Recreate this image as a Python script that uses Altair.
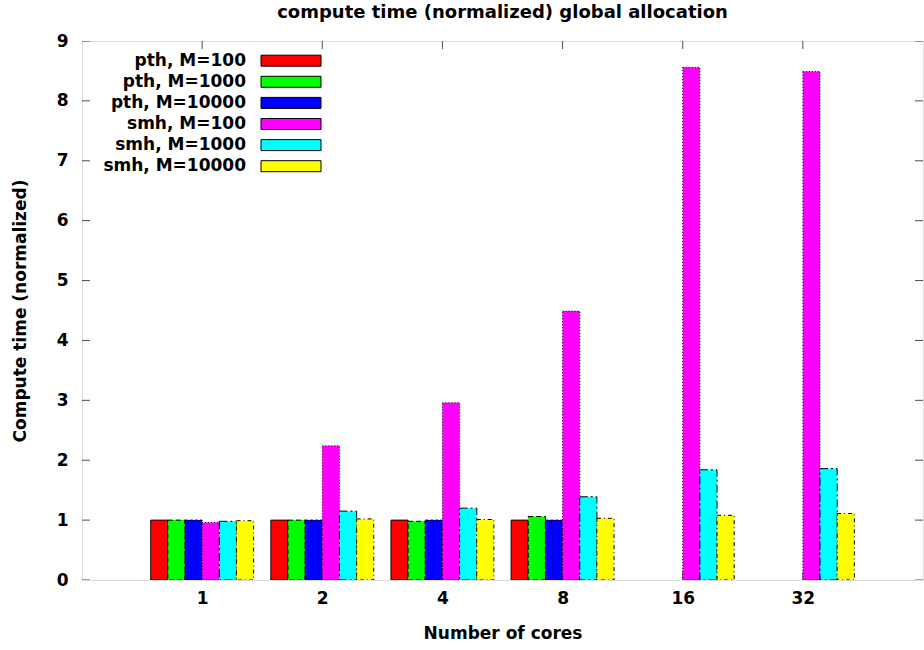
import altair as alt
import pandas as pd

cores = ["1", "2", "4", "8", "16", "32"]
series = ["pth, M=100", "pth, M=1000", "pth, M=10000",
          "smh, M=100", "smh, M=1000", "smh, M=10000"]
pth_100 = [1.00, 1.00, 1.00, 1.00, None, None]
pth_1000 = [1.00, 1.00, 0.98, 1.06, None, None]
pth_10000 = [1.00, 1.00, 1.00, 1.00, None, None]
smh_100 = [0.96, 2.24, 2.96, 4.49, 8.56, 8.49]
smh_1000 = [0.98, 1.15, 1.20, 1.39, 1.84, 1.86]
smh_10000 = [0.99, 1.02, 1.01, 1.03, 1.08, 1.11]
colors = ["#ff0000", "#00ff00", "#0000ff", "#ff00ff", "#00ffff", "#ffff00"]
dashes = [[1, 0], [5, 3], [3, 2], [1, 2], [8, 3, 2, 3], [4, 3, 1, 3]]
y_ticks = list(range(10))
title_text = "compute time (normalized) global allocation"

values = [pth_100, pth_1000, pth_10000, smh_100, smh_1000, smh_10000]
rows = []
for j, (name, vals) in enumerate(zip(series, values)):
    for i, v in enumerate(vals):
        if v is not None:
            rows.append({"series": name, "j": j, "idx": i, "value": v})
bars_df = pd.DataFrame(rows)

FONT = "DejaVu Sans"
FS = 17
W, H = 841, 539
XMIN, XMAX = -1, 6
YMIN, YMAX = 0, 9
n = len(series)
bw = 1.0 / (n + 1)

xscale = alt.Scale(domain=[XMIN, XMAX], nice=False, zero=False)
yscale = alt.Scale(domain=[YMIN, YMAX], nice=False, zero=False)
color = alt.Color("series:N", scale=alt.Scale(domain=series, range=colors), legend=None)
dash = alt.StrokeDash("series:N", scale=alt.Scale(domain=series, range=dashes), legend=None)

label_expr = "[" + ",".join("'%s'" % c for c in cores) + "][datum.value]"

bars = alt.Chart(bars_df).transform_calculate(
    x0="datum.idx + (datum.j - %f) * %f - %f" % ((n - 1) / 2, bw, bw / 2),
    x1="datum.idx + (datum.j - %f) * %f + %f" % ((n - 1) / 2, bw, bw / 2),
).mark_bar(stroke="black", strokeWidth=1, clip=True).encode(
    x=alt.X("x0:Q", scale=xscale, axis=alt.Axis(
        values=list(range(len(cores))), labelExpr=label_expr, title="Number of cores",
        grid=False, ticks=False, tickSize=0, domain=False, labelPadding=10,
        labelFont=FONT, labelFontSize=FS, labelFontWeight="bold", labelColor="black",
        titleFont=FONT, titleFontSize=FS, titleFontWeight="bold", titleColor="black",
        titleX=W / 2, titleY=53, titleBaseline="middle", titleAlign="center")),
    x2="x1:Q",
    y=alt.Y("value:Q", scale=yscale, axis=alt.Axis(
        values=y_ticks, format="d", title="Compute time (normalized)", grid=False,
        ticks=False, tickSize=0, domain=False, labelPadding=14,
        labelFont=FONT, labelFontSize=FS, labelFontWeight="bold", labelColor="black",
        titleFont=FONT, titleFontSize=FS, titleFontWeight="bold", titleColor="black",
        titleX=-62, titleY=H / 2, titleAngle=-90, titleBaseline="middle",
        titleAlign="center")),
    y2=alt.datum(0),
    fill=color,
    strokeDash=dash,
)

# inward tick marks (mirrored on all sides)
yt_df = pd.DataFrame({"v": y_ticks})
ytick_left = alt.Chart(yt_df).mark_tick(orient="horizontal", size=16, thickness=1,
                                        color="black", clip=True).encode(
    x=alt.datum(XMIN, scale=xscale), y=alt.Y("v:Q", scale=yscale))
ytick_right = alt.Chart(yt_df).mark_tick(orient="horizontal", size=16, thickness=1,
                                         color="black", clip=True).encode(
    x=alt.datum(XMAX, scale=xscale), y=alt.Y("v:Q", scale=yscale))
xt_df = pd.DataFrame({"v": list(range(len(cores)))})
xtick_top = alt.Chart(xt_df).mark_tick(orient="vertical", size=16, thickness=1,
                                       color="black", clip=True).encode(
    x=alt.X("v:Q", scale=xscale), y=alt.datum(YMAX, scale=yscale))
xtick_bot = alt.Chart(xt_df).mark_tick(orient="vertical", size=16, thickness=1,
                                       color="black", clip=True).encode(
    x=alt.X("v:Q", scale=xscale), y=alt.datum(YMIN, scale=yscale))

# gnuplot-style key: label right-aligned, then swatch
ux = W / (XMAX - XMIN)
uy = H / (YMAX - YMIN)
def px_x(p):
    return XMIN + (p - 82) / ux
def px_y(p):
    return YMAX - (p - 41) / uy
leg_rows = []
for k, name in enumerate(series):
    yc = 60.7 + 21.1 * k
    leg_rows.append({"series": name, "tx": px_x(246), "sx0": px_x(261), "sx1": px_x(321),
                     "ty": px_y(yc), "sy0": px_y(yc - 5.5), "sy1": px_y(yc + 5.5)})
leg_df = pd.DataFrame(leg_rows)

leg_text = alt.Chart(leg_df).mark_text(align="right", baseline="middle", font=FONT,
                                       fontSize=FS, fontWeight="bold", color="black").encode(
    x=alt.X("tx:Q", scale=xscale), y=alt.Y("ty:Q", scale=yscale), text="series:N")
leg_sw = alt.Chart(leg_df).mark_rect(stroke="black", strokeWidth=1).encode(
    x=alt.X("sx0:Q", scale=xscale), x2="sx1:Q",
    y=alt.Y("sy0:Q", scale=yscale), y2="sy1:Q",
    fill=color, strokeDash=dash)

title = alt.Chart(pd.DataFrame({"t": [title_text]})).mark_text(
    align="center", baseline="middle", font=FONT, fontSize=18, fontWeight="bold",
    color="black").encode(x=alt.value(W / 2), y=alt.value(-28), text="t:N")

chart = alt.layer(
    xtick_bot, xtick_top, ytick_left, ytick_right, bars, leg_text, leg_sw, title
).properties(
    width=W, height=H,
    autosize=alt.AutoSizeParams(type="none"),
    padding={"left": 82, "top": 41, "right": 1, "bottom": 70},
).configure_view(stroke="black", strokeWidth=1.2).configure(background="white")

chart.save("out.html", embed_options={"renderer": "svg", "actions": False})
